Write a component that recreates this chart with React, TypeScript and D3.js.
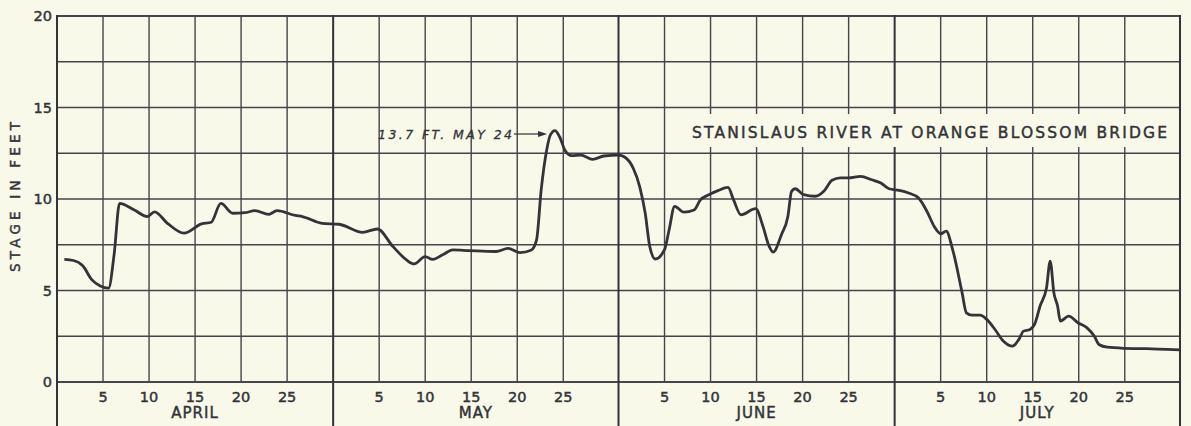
import React from "react";
import * as d3 from "d3";

// Day number: April d -> d, May d -> 30 + d, June d -> 61 + d, July d -> 91 + d
const days = [
  0.8, 1.8, 2.8, 3.8, 4.7, 5.6, 6.2, 6.8, 8.4, 9.8, 10.6, 12, 13.8, 15.7, 16.75, 17.8, 19.1, 20.4, 21.5, 23, 23.9, 25.9,
  26.65, 28.8, 30.65, 33.2, 34.8, 36.5, 37.9, 38.8, 40, 40.8, 41.9, 43, 44.8, 47.7, 49, 50.3, 51.5, 52.1, 52.6, 53.2,
  53.6, 54.1, 54.6, 55.2, 55.9, 56.9, 58.2, 59.4, 61, 61.7, 62.6, 63.3, 63.9, 64.4, 65, 66, 66.5, 67.1, 68.1, 69.2,
  69.9, 70.8, 71.8, 72.9, 73.5, 74.3, 75.9, 76.7, 77.3, 77.8, 78.7, 79.4, 79.8, 80.2, 81.1, 82.4, 83.3, 84.2, 85.1,
  86, 87.3, 88.5, 89.5, 90.4, 91.5, 92.5, 93.6, 94.5, 95.3, 96, 96.6, 97.3, 98.3, 98.8, 99.4, 100.3, 101, 101.9, 102.8,
  103.8, 104.5, 105, 105.7, 106.2, 106.8, 107.5, 107.9, 108.3, 108.7, 109, 109.9, 110.9, 111.9, 112.7, 113.2, 114.1,
  116, 118.3, 120.5, 122,
];
const stage = [
  6.7, 6.64, 6.35, 5.58, 5.25, 5.13, 6.95, 9.76, 9.4, 9.04, 9.3, 8.67, 8.13, 8.64, 8.73, 9.76, 9.22, 9.25, 9.36, 9.16, 9.36, 9.1,
  9.04, 8.67, 8.62, 8.18, 8.36, 7.4, 6.7, 6.45, 6.85, 6.7, 6.95, 7.22, 7.18, 7.13, 7.3, 7.07, 7.2, 7.77, 10.5, 12.68,
  13.5, 13.74, 13.4, 12.65, 12.37, 12.4, 12.17, 12.35, 12.4, 12.28, 11.68, 10.68, 9.23, 7.4, 6.72, 7.23, 8.32, 9.6, 9.28, 9.4,
  9.95, 10.23, 10.46, 10.63, 9.95, 9.14, 9.47, 8.5, 7.5, 7.1, 8.05, 9.05, 10.42, 10.56, 10.24, 10.15, 10.42, 11.02, 11.15,
  11.15, 11.24, 11.05, 10.87, 10.56, 10.47, 10.33, 10.05, 9.33, 8.5, 8.1, 8.24, 7.24, 4.95, 3.78, 3.65, 3.65, 3.42, 2.87, 2.24,
  1.96, 2.33, 2.78, 2.87, 3.15, 4.15, 5.15, 6.6, 4.87, 4.15, 3.33, 3.6, 3.24, 2.96, 2.5, 2.05, 1.9,
  1.84, 1.82, 1.78, 1.76,
];

const monthNames = ["APRIL", "MAY", "JUNE", "JULY"];
const monthStarts = [0, 30, 61, 91];
const monthLengths = [30, 31, 30, 31];
const dayTicks = [5, 10, 15, 20, 25];
const stageTicks = [0, 5, 10, 15, 20];
const stageGrid = [0, 2.5, 5, 7.5, 10, 12.5, 15, 17.5, 20];
const title = "STANISLAUS  RIVER AT ORANGE BLOSSOM BRIDGE";
const yTitle = "STAGE  IN  FEET";
const peakNote = "13.7 FT.  MAY  24";
const peakDay = 54;

const W = 1191;
const H = 426;
const BG = "#f8f9e8";
const INK = "#333338";
const GRID = "#45454a";
const FONT = "'DejaVu Sans', 'Liberation Sans', sans-serif";

export default function App() {
  const x = d3.scaleLinear().domain([0, 122]).range([57, 1180]);
  const y = d3.scaleLinear().domain([0, 20]).range([382, 16]);

  const line = d3
    .line<number>()
    .x((_, i) => x(days[i]))
    .y((d) => y(d))
    .curve(d3.curveMonotoneX);

  const dayGrid: number[] = [];
  monthStarts.forEach((m) => dayTicks.forEach((d) => dayGrid.push(m + d)));
  const monthEdges = [...monthStarts, 122];

  const boxX0 = 684;
  const boxX1 = x(122) - 1;
  const boxY0 = 114;
  const boxY1 = 147;

  const ink = { fill: INK, stroke: INK, strokeWidth: 0.45 };

  return (
    <svg
      width={W}
      height={H}
      style={{ position: "absolute", left: 0, top: 0, background: BG }}
      fontFamily={FONT}
    >
      <rect x={0} y={0} width={W} height={H} fill={BG} />
      {/* horizontal grid */}
      {stageGrid.map((s) => (
        <line
          key={"h" + s}
          x1={x(0)}
          x2={x(122)}
          y1={y(s)}
          y2={y(s)}
          stroke={GRID}
          strokeWidth={s === 0 || s === 20 ? 2 : 1.4}
        />
      ))}
      {/* day grid */}
      {dayGrid.map((d) => (
        <line key={"v" + d} x1={x(d)} x2={x(d)} y1={y(20)} y2={y(0)} stroke={GRID} strokeWidth={1.4} />
      ))}
      {/* month boundaries */}
      {monthEdges.map((m) => (
        <line key={"m" + m} x1={x(m)} x2={x(m)} y1={y(20) - 1} y2={H} stroke={INK} strokeWidth={2} />
      ))}
      {/* title box */}
      <rect x={boxX0} y={boxY0} width={boxX1 - boxX0} height={boxY1 - boxY0} fill={BG} />
      <text x={692} y={137.5} fontSize={15.5} {...ink} textLength={475} lengthAdjust="spacing">
        {title}
      </text>
      {/* data line */}
      <path d={line(stage) || ""} fill="none" stroke={INK} strokeWidth={2.8} strokeLinejoin="round" />
      {/* peak annotation */}
      <text
        x={378}
        y={138.5}
        fontSize={12.5}
        fontStyle="italic"
        {...ink}
        strokeWidth={0.3}
        textLength={134}
        lengthAdjust="spacing"
      >
        {peakNote}
      </text>
      <line x1={514} x2={x(peakDay) - 10} y1={134} y2={134} stroke={INK} strokeWidth={1.2} />
      <path d={`M${x(peakDay) - 7},${134} l-9,-3 l0,6 z`} fill={INK} />
      {/* y tick labels */}
      {stageTicks.map((s) => (
        <text key={"yl" + s} x={52} y={y(s) + 5} textAnchor="end" fontSize={14.5} {...ink}>
          {s}
        </text>
      ))}
      {/* y title */}
      <text
        transform={`translate(20,${197}) rotate(-90)`}
        textAnchor="middle"
        fontSize={13.5}
        {...ink}
        textLength={150}
        lengthAdjust="spacing"
      >
        {yTitle}
      </text>
      {/* x day labels */}
      {dayGrid.map((d) => (
        <text key={"xl" + d} x={x(d)} y={402} textAnchor="middle" fontSize={14.5} {...ink}>
          {d - monthStarts[monthStarts.filter((m) => m < d).length - 1]}
        </text>
      ))}
      {/* month labels */}
      {monthNames.map((name, i) => (
        <text
          key={name}
          x={x(monthStarts[i] + monthLengths[i] / 2)}
          y={418}
          textAnchor="middle"
          fontSize={15}
          {...ink}
          letterSpacing={1}
        >
          {name}
        </text>
      ))}
    </svg>
  );
}
